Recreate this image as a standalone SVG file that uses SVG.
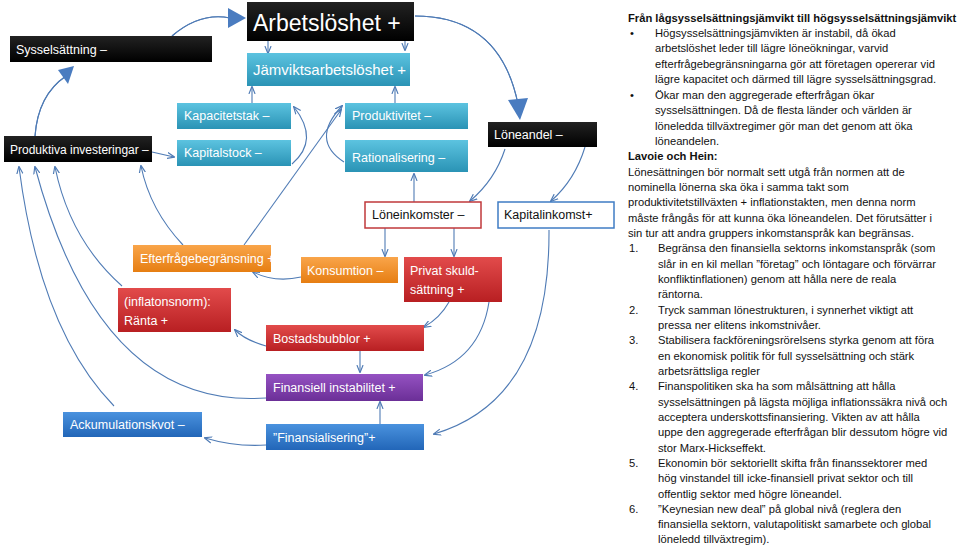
<svg xmlns="http://www.w3.org/2000/svg" width="959" height="545" viewBox="0 0 959 545">
<style>
.n text{font-family:"Liberation Sans",Arial,sans-serif;font-size:12.5px;fill:#fff}
.c path{fill:none;stroke:#4f7bb5;stroke-width:1.1}
.big{fill:none;stroke:#4a7cc0;stroke-width:7}
.bigi{fill:none;stroke:#fff;stroke-width:1.3}
.t{font-family:"Liberation Sans",Arial,sans-serif;font-size:11.2px;fill:#111}
.b{font-weight:bold}
</style>
<defs>
<marker id="a" viewBox="0 0 10 10" refX="9" refY="5" markerWidth="7" markerHeight="7" orient="auto"><path d="M0,1 L10,5 L0,9" fill="none" stroke="#4f7bb5" stroke-width="1.5"/></marker>
<linearGradient id="gk" x1="0" y1="0" x2="0" y2="1"><stop offset="0" stop-color="#222"/><stop offset="1" stop-color="#000"/></linearGradient>
<linearGradient id="gt" x1="0" y1="0" x2="0" y2="1"><stop offset="0" stop-color="#5cc3e0"/><stop offset="1" stop-color="#2a93b5"/></linearGradient>
<linearGradient id="go" x1="0" y1="0" x2="0" y2="1"><stop offset="0" stop-color="#f9a54a"/><stop offset="1" stop-color="#e67e12"/></linearGradient>
<linearGradient id="gr" x1="0" y1="0" x2="0" y2="1"><stop offset="0" stop-color="#e24b4b"/><stop offset="1" stop-color="#b81f22"/></linearGradient>
<linearGradient id="gp" x1="0" y1="0" x2="0" y2="1"><stop offset="0" stop-color="#9552c2"/><stop offset="1" stop-color="#6b2f97"/></linearGradient>
<linearGradient id="gb" x1="0" y1="0" x2="0" y2="1"><stop offset="0" stop-color="#4a92de"/><stop offset="1" stop-color="#2266b8"/></linearGradient>
</defs>
<g id="connectors" class="c">
<path class="big" d="M172,36 Q200,12 230,18"/><path class="bigi" d="M172,36 Q200,12 230,18"/>
<polygon points="228,8 246,18 228,28" fill="#4a7cc0"/>
<path class="big" d="M35,136 Q38,95 66,76"/><path class="bigi" d="M35,136 Q38,95 66,76"/>
<polygon points="58,70 74,66 68,84" fill="#4a7cc0"/>
<path class="big" d="M415,16 Q500,16 518,104"/><path class="bigi" d="M415,16 Q500,16 518,104"/>
<polygon points="508,100 528,98 520,120" fill="#4a7cc0"/>
<path d="M268,41 V53" marker-end="url(#a)"/>
<path d="M405,41 V50" marker-end="url(#a)"/>
<path d="M252,103 V87" marker-end="url(#a)"/>
<path d="M395,103 V87" marker-end="url(#a)"/>
<path d="M292,164 Q320,140 294,107" marker-end="url(#a)"/>
<path d="M344,162 Q310,140 342,106" marker-end="url(#a)"/>
<path d="M152,152 L174,157" marker-end="url(#a)"/>
<path d="M244,245 L341,110" marker-end="url(#a)"/>
<path d="M183,245 Q150,210 141,166" marker-end="url(#a)"/>
<path d="M414,202 V174" marker-end="url(#a)"/>
<path d="M505,149 Q495,180 470,201" marker-end="url(#a)"/>
<path d="M585,147 Q575,180 551,201" marker-end="url(#a)"/>
<path d="M385,228 V256" marker-end="url(#a)"/>
<path d="M454,228 V256" marker-end="url(#a)"/>
<path d="M549,230 Q550,400 434,434" marker-end="url(#a)"/>
<path d="M301,277 Q275,283 253,272" marker-end="url(#a)"/>
<path d="M449,302 Q440,318 424,327" marker-end="url(#a)"/>
<path d="M489,302 Q480,360 425,375" marker-end="url(#a)"/>
<path d="M266,346 Q245,340 235,330" marker-end="url(#a)"/>
<path d="M360,351 V372" marker-end="url(#a)"/>
<path d="M380,424 V402" marker-end="url(#a)"/>
<path d="M266,445 Q235,447 205,438" marker-end="url(#a)"/>
<path d="M122,286 Q70,240 55,167" marker-end="url(#a)"/>
<path d="M266,398 Q100,410 35,167" marker-end="url(#a)"/>
<path d="M114,406 Q40,330 19,167" marker-end="url(#a)"/>
</g>
<g id="arbetsloshet" class="n"><rect x="247" y="2" width="167" height="39" fill="url(#gk)"/><text x="253" y="31" style="font-size:23px">Arbetslöshet +</text></g>
<g id="sysselsattning" class="n"><rect x="10" y="36" width="202" height="26" fill="url(#gk)"/><text x="16" y="54">Sysselsättning –</text></g>
<g id="jamvikt" class="n"><rect x="247" y="53" width="163" height="33" fill="url(#gt)"/><text x="253" y="75" style="font-size:15px">Jämviktsarbetslöshet +</text></g>
<g id="kapacitetstak" class="n"><rect x="177" y="103" width="114" height="26" fill="url(#gt)"/><text x="184" y="120">Kapacitetstak –</text></g>
<g id="kapitalstock" class="n"><rect x="177" y="140" width="114" height="26" fill="url(#gt)"/><text x="184" y="157">Kapitalstock –</text></g>
<g id="produktivitet" class="n"><rect x="345" y="103" width="123" height="26" fill="url(#gt)"/><text x="352" y="120">Produktivitet –</text></g>
<g id="rationalisering" class="n"><rect x="345" y="140" width="123" height="32" fill="url(#gt)"/><text x="352" y="162">Rationalisering –</text></g>
<g id="loneandel" class="n"><rect x="488" y="122" width="109" height="25" fill="url(#gk)"/><text x="494" y="139">Löneandel –</text></g>
<g id="produktiva" class="n"><rect x="4" y="136" width="148" height="26" fill="url(#gk)"/><text x="10" y="154" style="font-size:12px">Produktiva investeringar –</text></g>
<g id="loneinkomster" class="n"><rect x="365" y="202" width="116" height="26" fill="#fff" stroke="#c0393b" stroke-width="1.5"/><text x="372" y="219" style="fill:#111">Löneinkomster –</text></g>
<g id="kapitalinkomst" class="n"><rect x="498" y="202" width="116" height="26" fill="#fff" stroke="#3f7cc4" stroke-width="1.5"/><text x="504" y="219" style="fill:#111">Kapitalinkomst+</text></g>
<g id="efterfragebegransning" class="n"><rect x="133" y="245" width="138" height="27" fill="url(#go)"/><text x="140" y="263">Efterfrågebegränsning +</text></g>
<g id="konsumtion" class="n"><rect x="301" y="257" width="97" height="26" fill="url(#go)"/><text x="307" y="275">Konsumtion –</text></g>
<g id="privat" class="n"><rect x="404" y="257" width="98" height="45" fill="url(#gr)"/><text x="410" y="275">Privat skuld-</text><text x="410" y="294">sättning +</text></g>
<g id="ranta" class="n"><rect x="118" y="288" width="113" height="44" fill="url(#gr)"/><text x="124" y="306">(inflatonsnorm):</text><text x="124" y="325">Ränta +</text></g>
<g id="bostadsbubblor" class="n"><rect x="266" y="325" width="158" height="26" fill="url(#gr)"/><text x="273" y="343">Bostadsbubblor +</text></g>
<g id="finansiell" class="n"><rect x="266" y="374" width="157" height="27" fill="url(#gp)"/><text x="273" y="392">Finansiell instabilitet +</text></g>
<g id="ackumulationskvot" class="n"><rect x="63" y="412" width="139" height="25" fill="url(#gb)"/><text x="70" y="429">Ackumulationskvot –</text></g>
<g id="finansialisering" class="n"><rect x="266" y="424" width="158" height="26" fill="url(#gb)"/><text x="273" y="442">”Finansialisering”+</text></g>
<g id="text">
<text class="t b" x="628" y="22">Från lågsysselsättningsjämvikt till högsysselsättningsjämvikt</text>
<text class="t" x="630" y="37">•</text>
<text class="t" x="655" y="37">Högsysselsättningsjämvikten är instabil, då ökad</text>
<text class="t" x="655" y="52">arbetslöshet leder till lägre löneökningar, varvid</text>
<text class="t" x="655" y="68">efterfrågebegränsningarna gör att företagen opererar vid</text>
<text class="t" x="655" y="83">lägre kapacitet och därmed till lägre sysselsättningsgrad.</text>
<text class="t" x="630" y="99">•</text>
<text class="t" x="655" y="99">Ökar man den aggregerade efterfrågan ökar</text>
<text class="t" x="655" y="114">sysselsättningen. Då de flesta länder och världen är</text>
<text class="t" x="655" y="130">löneledda tillväxtregimer gör man det genom att öka</text>
<text class="t" x="655" y="145">löneandelen.</text>
<text class="t b" x="628" y="160">Lavoie och Hein:</text>
<text class="t" x="628" y="176">Lönesättningen bör normalt sett utgå från normen att de</text>
<text class="t" x="628" y="191">nominella lönerna ska öka i samma takt som</text>
<text class="t" x="628" y="206">produktivitetstillväxten + inflationstakten, men denna norm</text>
<text class="t" x="628" y="222">måste frångås för att kunna öka löneandelen. Det förutsätter i</text>
<text class="t" x="628" y="237">sin tur att andra gruppers inkomstanspråk kan begränsas.</text>
<text class="t" x="629" y="252">1.</text>
<text class="t" x="658" y="252">Begränsa den finansiella sektorns inkomstanspråk (som</text>
<text class="t" x="658" y="268">slår in en kil mellan ”företag” och löntagare och förvärrar</text>
<text class="t" x="658" y="283">konfliktinflationen) genom att hålla nere de reala</text>
<text class="t" x="658" y="298">räntorna.</text>
<text class="t" x="629" y="314">2.</text>
<text class="t" x="658" y="314">Tryck samman lönestrukturen, i synnerhet  viktigt att</text>
<text class="t" x="658" y="329">pressa ner elitens inkomstnivåer.</text>
<text class="t" x="629" y="344">3.</text>
<text class="t" x="658" y="344">Stabilisera fackföreningsrörelsens styrka genom att föra</text>
<text class="t" x="658" y="360">en ekonomisk politik för full sysselsättning och stärk</text>
<text class="t" x="658" y="375">arbetsrättsliga regler</text>
<text class="t" x="629" y="390">4.</text>
<text class="t" x="658" y="390">Finanspolitiken ska ha som målsättning att hålla</text>
<text class="t" x="658" y="406">sysselsättningen på lägsta möjliga inflationssäkra  nivå och</text>
<text class="t" x="658" y="421">acceptera underskottsfinansiering. Vikten av att hålla</text>
<text class="t" x="658" y="436">uppe den aggregerade efterfrågan blir dessutom högre vid</text>
<text class="t" x="658" y="452">stor Marx-Hickseffekt.</text>
<text class="t" x="629" y="467">5.</text>
<text class="t" x="658" y="467">Ekonomin bör sektoriellt skifta från finanssektorer med</text>
<text class="t" x="658" y="482">hög vinstandel till icke-finansiell privat sektor och till</text>
<text class="t" x="658" y="498">offentlig sektor med högre löneandel.</text>
<text class="t" x="629" y="513">6.</text>
<text class="t" x="658" y="513">”Keynesian new deal” på global nivå (reglera den</text>
<text class="t" x="658" y="528">finansiella sektorn, valutapolitiskt samarbete och global</text>
<text class="t" x="658" y="543">löneledd tillväxtregim).</text>
</g>
</svg>
